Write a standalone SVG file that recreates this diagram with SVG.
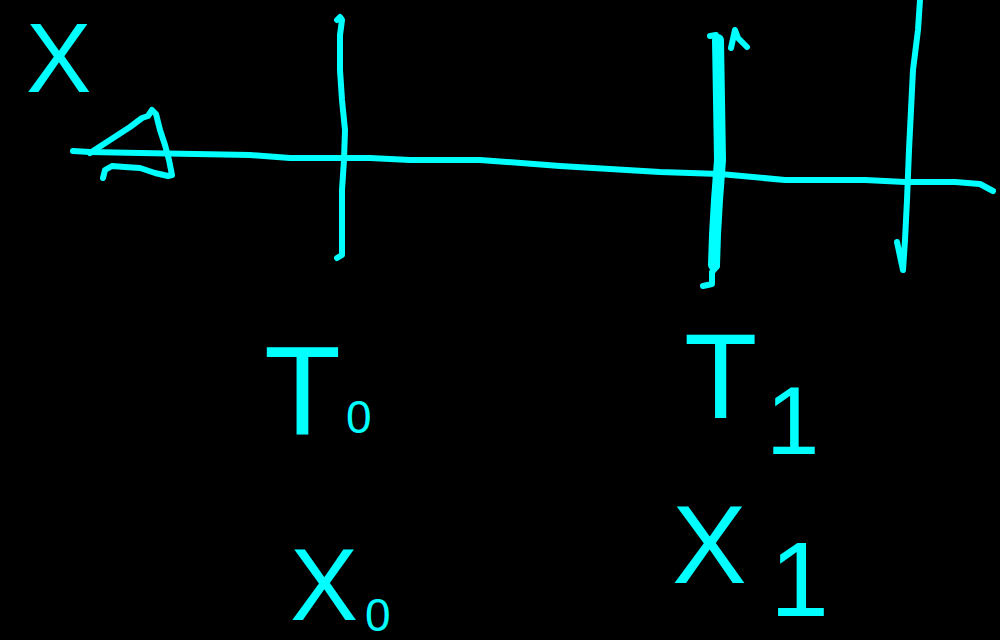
<svg xmlns="http://www.w3.org/2000/svg" width="1000" height="640" viewBox="0 0 1000 640">
<style>
.s{fill:none;stroke:#00FFFF;stroke-width:6;stroke-linecap:round;stroke-linejoin:round}
.t{fill:#00FFFF;font-family:"Liberation Sans",Arial,sans-serif}
</style>
<rect width="1000" height="640" fill="#000"/>
<g id="axis">
<polyline class="s" points="73,151 90,152 140,153 250,155 290,158 370,158 410,160 480,160 560,166 660,172 720,174 785,180 865,180 905,182 955,182 980,184 993,191"/>
<polyline class="s" points="90,153 110,140 130,127 142,118 148,116 152,110 156,114 160,130 165,145 169,160 172,175 168,176 155,173 140,168 125,167 112,166 105,170 103,178"/>
</g>
<g id="line-t0">
<polyline class="s" points="337,20 340,17 342,20 340,35 340,70 342,100 345,130 344,160 342,190 342,255 337,258"/>
</g>
<g id="line-t1">
<polyline class="s" style="stroke-width:12" points="718,40 719,100 720,160 717,200 715,235 714,265"/>
<polyline class="s" points="710,36 716,35 718,45"/>
<polyline class="s" points="731,48 735,30 738,38 747,47"/>
<polyline class="s" points="717,266 712,272 712,284 703,286"/>
</g>
<g id="line-x1">
<polyline class="s" points="920,0 918,30 913,70 911,110 909,150 907,200 905,240 903,270 897,242"/>
</g>
<g id="labels">
<text class="t" x="26" y="92" font-size="98">X</text>
<text class="t" x="264" y="434" font-size="126">T</text>
<text class="t" x="346" y="433" font-size="46">0</text>
<text class="t" x="684" y="418" font-size="120">T</text>
<text class="t" x="766" y="454" font-size="96">1</text>
<text class="t" x="290" y="620" font-size="102">X</text>
<text class="t" x="365" y="631" font-size="46">0</text>
<text class="t" x="672" y="583" font-size="112">X</text>
<text class="t" x="770" y="616" font-size="106">1</text>
</g>
</svg>
